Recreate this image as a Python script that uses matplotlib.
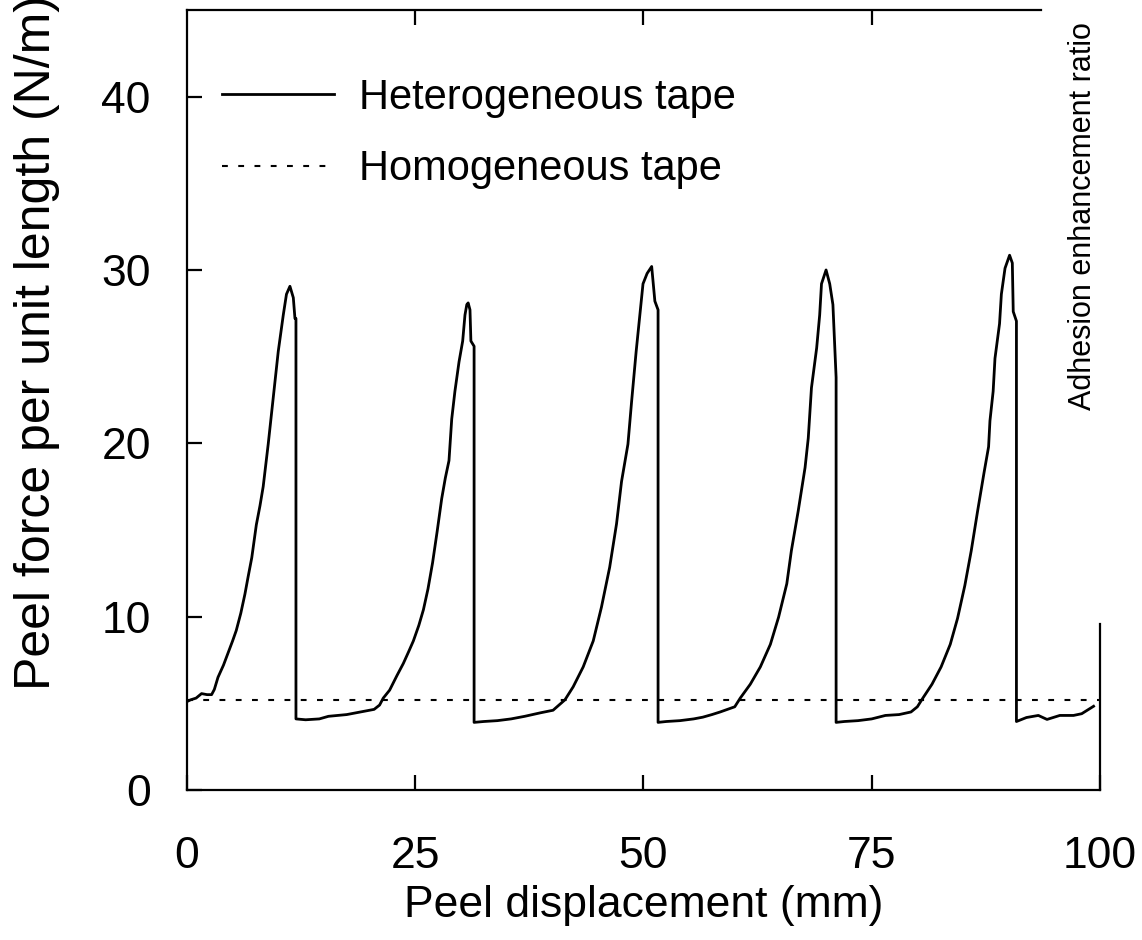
import matplotlib
matplotlib.use("agg")
import matplotlib.pyplot as plt
from matplotlib.transforms import Bbox

# heterogeneous tape
het_x = [0.0, 0.4, 1.0, 1.6, 2.2, 2.7, 3.0, 3.4, 4.0, 4.5, 5.0, 5.4, 5.9, 6.35, 6.7, 7.1,
         7.6, 8.0, 8.35, 8.9, 9.45, 10.0, 10.55, 10.9, 11.28, 11.65, 11.83, 11.94,
         11.94, 13.0, 14.5, 15.5, 16.5, 17.5, 18.5, 19.5, 20.5,
         21.1, 21.5, 22.2, 23.0, 23.7, 24.3, 24.8, 25.4, 25.9, 26.4, 26.9, 27.4, 27.9,
         28.3, 28.7, 29.0, 29.35, 29.8, 30.2, 30.45, 30.65, 30.8, 31.0, 31.1, 31.45,
         31.45, 32.5, 34.0, 35.5, 37.0, 38.7, 40.1,
         41.4, 42.3, 43.4, 44.5, 45.4, 46.3, 47.05, 47.6, 48.3, 48.7, 49.2, 49.6, 49.95,
         50.4, 50.9, 51.25, 51.6,
         51.6, 52.5, 54.0, 55.5, 56.5, 57.5, 58.4, 60.0,
         60.6, 61.7, 62.8, 63.9, 64.8, 65.7, 66.2, 66.95, 67.7, 68.05, 68.4, 68.97, 69.3,
         69.5, 70.0, 70.4, 70.75, 71.1,
         71.1, 72.0, 73.5, 75.0, 76.5, 78.0, 79.3, 80.0,
         80.6, 81.6, 82.6, 83.6, 84.4, 85.2, 85.9, 86.6, 87.3, 87.8, 87.95, 88.3, 88.5,
         89.0, 89.2, 89.6, 90.1, 90.4, 90.5, 90.85,
         90.85, 91.95, 93.25, 94.2, 95.6, 97.1, 98.0, 99.3]
het_y = [5.1, 5.2, 5.3, 5.56, 5.5, 5.5, 5.8, 6.5, 7.2, 7.9, 8.6, 9.2, 10.2, 11.3, 12.3, 13.4,
         15.3, 16.4, 17.5, 19.95, 22.6, 25.3, 27.4, 28.6, 29.06, 28.4, 27.2, 27.2,
         4.1, 4.05, 4.1, 4.25, 4.3, 4.35, 4.45, 4.55, 4.65,
         4.9, 5.3, 5.76, 6.6, 7.3, 8.0, 8.6, 9.5, 10.4, 11.6, 13.1, 14.9, 16.8,
         18.0, 19.0, 21.4, 23.0, 24.7, 25.9, 27.4, 28.0, 28.1, 27.7, 25.9, 25.6,
         3.9, 3.95, 4.0, 4.1, 4.25, 4.45, 4.6,
         5.2, 5.95, 7.1, 8.6, 10.55, 12.85, 15.35, 17.8, 19.95, 22.4, 25.3, 27.4, 29.2,
         29.8, 30.2, 28.2, 27.7,
         3.9, 3.95, 4.0, 4.1, 4.2, 4.35, 4.5, 4.8,
         5.3, 6.1, 7.1, 8.4, 9.97, 11.9, 13.8, 16.1, 18.6, 20.3, 23.2, 25.5, 27.4,
         29.2, 30.0, 29.2, 28.0, 23.8,
         3.9, 3.95, 4.0, 4.1, 4.3, 4.35, 4.5, 4.8,
         5.3, 6.1, 7.1, 8.4, 9.9, 11.8, 13.8, 16.1, 18.3, 19.8, 21.3, 23.0, 24.9,
         26.9, 28.6, 30.1, 30.85, 30.4, 27.6, 27.05,
         3.95, 4.18, 4.3, 4.07, 4.3, 4.3, 4.4, 4.83]

# homogeneous tape, flat level
hom_x = [0, 100]
hom_y = [5.2, 5.2]

x_ticks = [0, 25, 50, 75, 100]
y_ticks = [0, 10, 20, 30, 40]

plt.rcParams['font.family'] = ['Liberation Sans', 'DejaVu Sans']

fig = plt.figure(figsize=(11.42, 9.4), dpi=100)
ax = fig.add_axes([0.1637, 0.1596, 0.7995, 0.8298])

ax.plot(het_x, het_y, color="black", lw=2.0, label="Heterogeneous tape")
ax.plot(hom_x, hom_y, color="black", lw=1.5, linestyle=(0, (2.8, 5.0)), label="Homogeneous tape")

ax.set_xlim(0, 100)
ax.set_ylim(0, 45)
ax.set_xticks(x_ticks)
ax.set_yticks(y_ticks)
ax.tick_params(direction="in", length=11, width=1.6, labelsize=32, top=True)
ax.tick_params(axis="x", pad=33)
ax.tick_params(axis="y", pad=26)
ax.xaxis.get_major_ticks()[-1].tick2line.set_visible(False)
ax.xaxis.get_major_ticks()[0].tick2line.set_visible(False)

for s in ax.spines.values():
    s.set_linewidth(1.6)
ax.spines["top"].set_bounds(0, 93.5)
ax.spines["right"].set_bounds(0, 9.6)

ax.set_xlabel("Peel displacement (mm)", fontsize=32, labelpad=6)

# the reference crops this label at the top edge, as here
fig.text(0.032, 0.266, "Peel force per unit length (N/m)", rotation=90,
         ha="center", va="bottom", fontsize=36)

rt = fig.text(0.948, 0.564, "Adhesion enhancement ratio", rotation=90,
              ha="center", va="bottom", fontsize=22)
rt.set_clip_box(Bbox([[0, 0], [1142, 916]]))
rt.set_clip_on(True)

ax.legend(loc="upper left", bbox_to_anchor=(0.038, 0.913), frameon=False,
          fontsize=30, handlelength=2.7, handletextpad=0.6, labelspacing=0.76,
          borderpad=0, borderaxespad=0)

fig.savefig("out.png", dpi=100)
